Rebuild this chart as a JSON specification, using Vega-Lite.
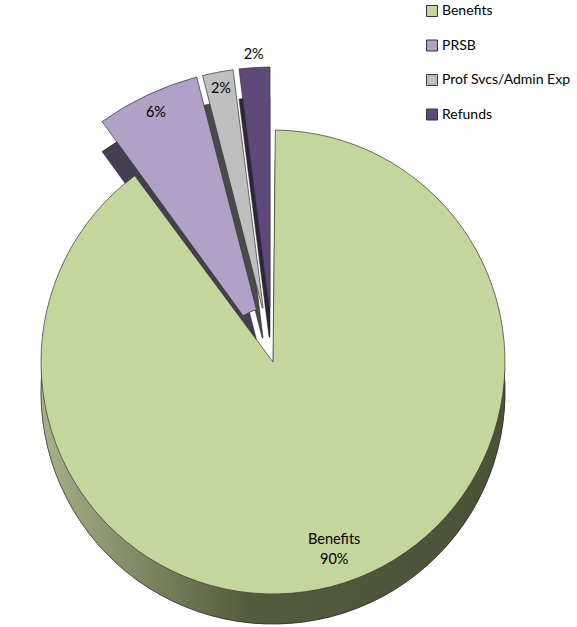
{
  "$schema": "https://vega.github.io/schema/vega-lite/v6.json",
  "width": 546,
  "height": 530,
  "autosize": {"type": "none"},
  "padding": {"left": 0, "top": 97, "right": 31, "bottom": 0},
  "background": "white",
  "config": {"view": {"stroke": null}, "font": "Lato"},
  "data": {"values": [
    {"category": "Benefits", "share": 0.90},
    {"category": "PRSB", "share": 0.06},
    {"category": "Prof Svcs/Admin Exp", "share": 0.02},
    {"category": "Refunds", "share": 0.02}
  ]},
  "layer": [
    {
      "mark": {"type": "arc", "radius": {"expr": "datum.category === 'Benefits' ? 232 : 295"}, "radius2": {"expr": "datum.category === 'Benefits' ? 0 : 55"}, "padAngle": 0.02, "yOffset": 30, "stroke": "#222222", "strokeWidth": 0.5},
      "encoding": {
        "theta": {"field": "share", "type": "quantitative", "stack": true},
        "order": {"field": "category", "type": "ordinal", "sort": "ascending"},
        "color": {"field": "category", "type": "nominal", "scale": {"domain": ["Benefits", "PRSB", "Prof Svcs/Admin Exp", "Refunds"], "range": ["#4b5339", "#453d50", "#4a4a4a", "#2f2440"]}, "legend": null}
      }
    },
    {
      "transform": [{"filter": "datum.category === 'Benefits'"}],
      "mark": {"type": "arc", "radius": 232, "padAngle": 0.02, "yOffset": 30, "stroke": "#222222", "strokeWidth": 0.5,
        "fill": {"gradient": "linear", "x1": 0, "y1": 0, "x2": 1, "y2": 0, "stops": [{"offset": 0, "color": "#a7b187"}, {"offset": 0.45, "color": "#525c3d"}, {"offset": 1, "color": "#4a5238"}]}},
      "encoding": {
        "theta": {"field": "share", "type": "quantitative", "stack": true}
      }
    },
    {
      "mark": {"type": "arc", "radius": {"expr": "datum.category === 'Benefits' ? 232 : 295"}, "radius2": {"expr": "datum.category === 'Benefits' ? 0 : 55"}, "padAngle": 0.02, "stroke": "#333333", "strokeWidth": 0.7},
      "encoding": {
        "theta": {"field": "share", "type": "quantitative", "stack": true},
        "order": {"field": "category", "type": "ordinal", "sort": "ascending"},
        "color": {"field": "category", "type": "nominal",
          "scale": {"domain": ["Benefits", "PRSB", "Prof Svcs/Admin Exp", "Refunds"], "range": ["#c3d69b", "#b2a1c7", "#bfbfbf", "#5f497a"]},
          "legend": {"orient": "none", "legendX": 425, "legendY": -93, "title": null, "symbolType": "square", "symbolSize": 121, "symbolStrokeColor": "#333333", "symbolStrokeWidth": 1, "labelFontSize": 14, "labelFont": "Lato", "labelColor": "#000000", "rowPadding": 18.5, "labelLimit": 300, "padding": 0, "labelOffset": 3}}
      }
    },
    {
      "mark": {"type": "text", "radius": 198, "dy": -10, "fontSize": 14.5, "font": "Lato", "color": "#000000"},
      "encoding": {
        "theta": {"field": "share", "type": "quantitative", "stack": true},
        "order": {"field": "category", "type": "ordinal", "sort": "ascending"},
        "text": {"condition": {"test": "datum.category === 'Benefits'", "field": "category"}, "value": ""}
      }
    },
    {
      "mark": {"type": "text", "radius": {"expr": "datum.category === 'Benefits' ? 198 : (datum.category === 'Refunds' ? 308 : (datum.category === 'PRSB' ? 275 : 278))"}, "dy": {"expr": "datum.category === 'Benefits' ? 10 : 0"}, "fontSize": 14.5, "font": "Lato", "color": "#000000"},
      "encoding": {
        "theta": {"field": "share", "type": "quantitative", "stack": true},
        "order": {"field": "category", "type": "ordinal", "sort": "ascending"},
        "text": {"field": "share", "type": "quantitative", "format": ".0%"}
      }
    }
  ],
  "resolve": {"scale": {"color": "independent"}}
}
